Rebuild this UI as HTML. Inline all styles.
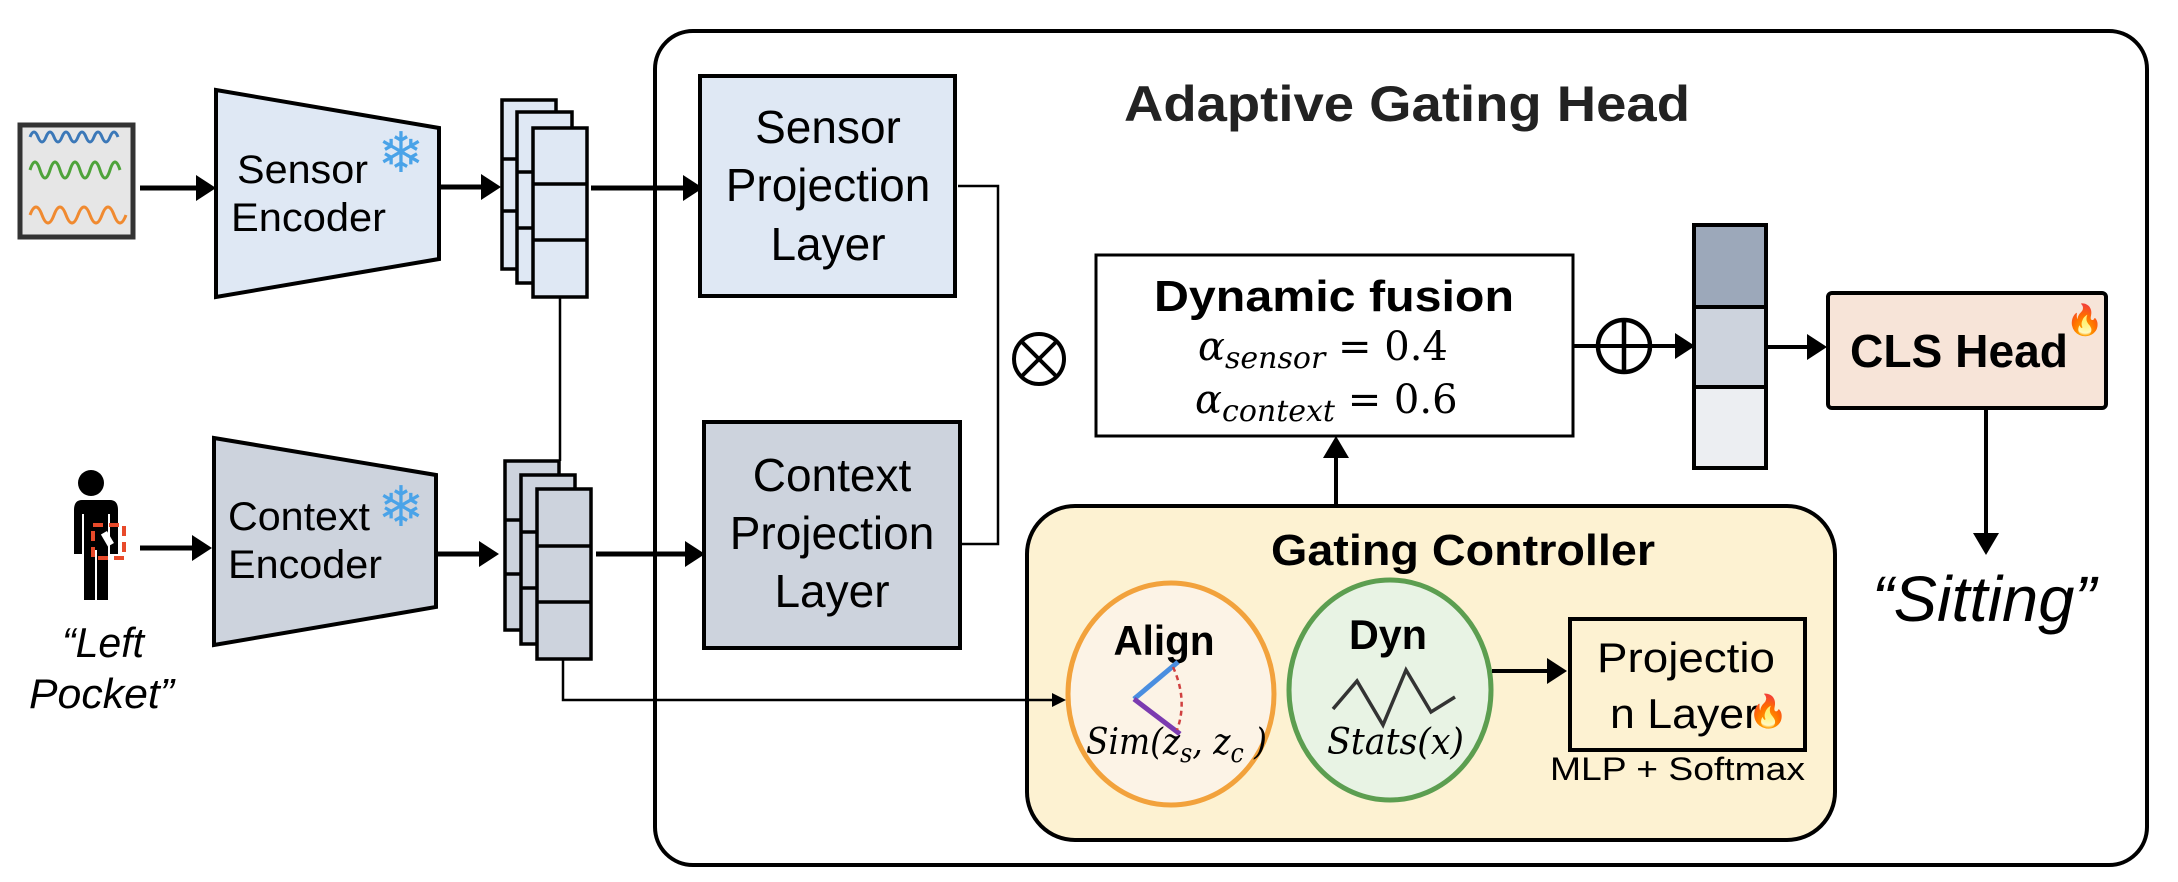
<!DOCTYPE html>
<html><head><meta charset="utf-8"><style>
html,body{margin:0;padding:0;background:#fff;width:2178px;height:882px;overflow:hidden}
svg{display:block}
.s{font-family:"Liberation Sans",Arial,sans-serif}
.m{font-family:"DejaVu Serif","Liberation Serif",serif;font-style:italic}
</style></head><body>
<svg width="2178" height="882" viewBox="0 0 2178 882" xmlns="http://www.w3.org/2000/svg">
<!-- big box -->
<rect x="655" y="31" width="1492" height="834" rx="38" fill="#fff" stroke="#000" stroke-width="4"/>
<text x="1407" y="121" text-anchor="middle" class="s" font-weight="bold" font-size="50" fill="#222" textLength="566" lengthAdjust="spacingAndGlyphs">Adaptive Gating Head</text>

<!-- sensor icon -->
<rect x="20" y="125" width="113" height="112" fill="#e6e6e6" stroke="#333" stroke-width="5"/>
<path d="M30 137 q4 -10 8 0 t8 0 t8 0 t8 0 t8 0 t8 0 t8 0 t8 0 t8 0 t8 0 t8 0" fill="none" stroke="#3b78b8" stroke-width="3"/>
<path d="M30 170 q5 -16 10 0 t10 0 t10 0 t10 0 t10 0 t10 0 t10 0 t10 0 t10 0" fill="none" stroke="#4ea33a" stroke-width="3"/>
<path d="M30 215 q6 -16 12 0 t12 0 t12 0 t12 0 t12 0 t12 0 t12 0 t12 0" fill="none" stroke="#f08a30" stroke-width="3"/>

<!-- person -->
<circle cx="91" cy="483" r="13" fill="#000"/>
<path d="M72 500 h38 q8 0 8 10 v44 h-8 v-40 h-2 v86 h-11 v-50 h-2 v50 h-11 v-86 h-2 v40 h-8 v-44 q0 -10 8 -10z" fill="#000"/>
<rect x="93" y="525" width="31" height="33" fill="none" stroke="#e84a2a" stroke-width="4" stroke-dasharray="10 6"/>
<rect x="104" y="532" width="7" height="14" fill="#fff" transform="rotate(-30 107 539)"/>

<!-- arrows left -->
<g stroke="#000" stroke-width="5" fill="none">
<line x1="140" y1="188" x2="200" y2="188"/>
<line x1="140" y1="548" x2="196" y2="548"/>
<line x1="441" y1="187" x2="484" y2="187"/>
<line x1="436" y1="554" x2="482" y2="554"/>
<line x1="591" y1="188" x2="688" y2="188"/>
<line x1="596" y1="554" x2="690" y2="554"/>
</g>
<g fill="#000">
<polygon points="216,188 196,175 196,201"/>
<polygon points="212,548 192,535 192,561"/>
<polygon points="501,187 481,174 481,200"/>
<polygon points="499,554 479,541 479,567"/>
<polygon points="703,188 683,175 683,201"/>
<polygon points="705,554 685,541 685,567"/>
</g>

<!-- encoders -->
<polygon points="216,90 439,128 439,259 216,297" fill="#dfe8f4" stroke="#000" stroke-width="4"/>
<text x="237" y="183" class="s" font-size="40" textLength="131" lengthAdjust="spacingAndGlyphs">Sensor</text>
<text x="231" y="231" class="s" font-size="40" textLength="155" lengthAdjust="spacingAndGlyphs">Encoder</text>
<text x="401" y="172" text-anchor="middle" font-size="56" fill="#4aa3e8" class="s">❄</text>
<polygon points="214,438 436,475 436,607 214,645" fill="#cdd3dd" stroke="#000" stroke-width="4"/>
<text x="228" y="530" class="s" font-size="40" textLength="142" lengthAdjust="spacingAndGlyphs">Context</text>
<text x="228" y="578" class="s" font-size="40" textLength="154" lengthAdjust="spacingAndGlyphs">Encoder</text>
<text x="401" y="526" text-anchor="middle" font-size="56" fill="#4aa3e8" class="s">❄</text>

<!-- stacks -->
<g stroke="#000" stroke-width="3.5">
<rect x="502" y="100" width="54" height="169" fill="#dfe8f4"/>
<line x1="502" y1="159" x2="517" y2="159"/><line x1="502" y1="211" x2="517" y2="211"/>
<rect x="517" y="112" width="55" height="171" fill="#dfe8f4"/>
<line x1="517" y1="172" x2="533" y2="172"/><line x1="517" y1="228" x2="533" y2="228"/>
<rect x="533" y="128" width="54" height="169" fill="#dfe8f4"/>
<line x1="533" y1="184" x2="587" y2="184"/><line x1="533" y1="240" x2="587" y2="240"/>
<rect x="505" y="461" width="54" height="169" fill="#cdd3dd"/>
<line x1="505" y1="520" x2="521" y2="520"/><line x1="505" y1="574" x2="521" y2="574"/>
<rect x="521" y="475" width="54" height="169" fill="#cdd3dd"/>
<line x1="521" y1="532" x2="537" y2="532"/><line x1="521" y1="588" x2="537" y2="588"/>
<rect x="537" y="489" width="54" height="170" fill="#cdd3dd"/>
<line x1="537" y1="546" x2="591" y2="546"/><line x1="537" y1="602" x2="591" y2="602"/>
</g>
<g stroke="#000" stroke-width="2.5" fill="none">
<line x1="560" y1="298" x2="560" y2="461"/>
<polyline points="958,186 998,186 998,544 960,544"/>
</g>

<!-- projection layers -->
<rect x="700" y="76" width="255" height="220" fill="#dfe8f4" stroke="#000" stroke-width="4"/>
<g class="s" font-size="46" text-anchor="middle">
<text x="828" y="143">Sensor</text><text x="828" y="201">Projection</text><text x="828" y="260">Layer</text>
</g>
<rect x="704" y="422" width="256" height="226" fill="#cdd3dd" stroke="#000" stroke-width="4"/>
<g class="s" font-size="46" text-anchor="middle">
<text x="832" y="491">Context</text><text x="832" y="549">Projection</text><text x="832" y="607">Layer</text>
</g>

<!-- otimes -->
<circle cx="1039" cy="359" r="25" fill="none" stroke="#000" stroke-width="4"/>
<line x1="1021" y1="341" x2="1057" y2="377" stroke="#000" stroke-width="4"/>
<line x1="1057" y1="341" x2="1021" y2="377" stroke="#000" stroke-width="4"/>

<!-- fusion -->
<rect x="1096" y="255" width="477" height="181" fill="#fff" stroke="#000" stroke-width="3"/>
<text x="1334" y="311" text-anchor="middle" class="s" font-weight="bold" font-size="44" textLength="360" lengthAdjust="spacingAndGlyphs">Dynamic fusion</text>
<text x="1198" y="360" class="m" font-size="40">α<tspan font-size="30" dy="8">sensor</tspan><tspan dy="-8" font-style="normal"> = 0.4</tspan></text>
<text x="1195" y="413" class="m" font-size="40">α<tspan font-size="30" dy="8">context</tspan><tspan dy="-8" font-style="normal"> = 0.6</tspan></text>

<!-- oplus and vector -->
<line x1="1573" y1="346" x2="1680" y2="346" stroke="#000" stroke-width="4"/>
<polygon points="1695,346 1675,333 1675,359" fill="#000"/>
<circle cx="1624" cy="346" r="26" fill="none" stroke="#000" stroke-width="4.5"/>
<line x1="1624" y1="320" x2="1624" y2="372" stroke="#000" stroke-width="4.5"/>
<g stroke="#000" stroke-width="4">
<rect x="1694" y="225" width="72" height="82" fill="#9ca8ba"/>
<rect x="1694" y="307" width="72" height="80" fill="#cdd3dd"/>
<rect x="1694" y="387" width="72" height="81" fill="#eceef2"/>
</g>
<line x1="1766" y1="347" x2="1812" y2="347" stroke="#000" stroke-width="4"/>
<polygon points="1827,347 1807,334 1807,360" fill="#000"/>

<!-- CLS -->
<rect x="1828" y="293" width="278" height="115" rx="4" fill="#f7e4d8" stroke="#000" stroke-width="4"/>
<text x="1959" y="367" text-anchor="middle" class="s" font-weight="bold" font-size="46" textLength="218" lengthAdjust="spacingAndGlyphs">CLS Head</text>
<text x="2085" y="330" text-anchor="middle" font-size="30">🔥</text>
<line x1="1986" y1="408" x2="1986" y2="540" stroke="#000" stroke-width="4"/>
<polygon points="1986,555 1973,533 1999,533" fill="#000"/>
<text x="1984" y="621" text-anchor="middle" class="s" font-style="italic" font-size="64" textLength="224" lengthAdjust="spacingAndGlyphs">“Sitting”</text>

<!-- gating -->
<line x1="1336" y1="506" x2="1336" y2="452" stroke="#000" stroke-width="4"/>
<polygon points="1336,436 1323,458 1349,458" fill="#000"/>
<rect x="1027" y="506" width="808" height="334" rx="48" fill="#fdf2d2" stroke="#000" stroke-width="4"/>
<text x="1463" y="565" text-anchor="middle" class="s" font-weight="bold" font-size="44" textLength="384" lengthAdjust="spacingAndGlyphs">Gating Controller</text>

<polyline points="563,659 563,700 1054,700" fill="none" stroke="#000" stroke-width="2.5"/>
<polygon points="1066,700 1052,693 1052,707" fill="#000"/>

<ellipse cx="1171" cy="694" rx="103" ry="111" fill="#fcf3e6" stroke="#f2a23c" stroke-width="5"/>
<text x="1164" y="655" text-anchor="middle" class="s" font-weight="bold" font-size="42" textLength="101" lengthAdjust="spacingAndGlyphs">Align</text>
<line x1="1134" y1="699" x2="1178" y2="662" stroke="#4a8ee0" stroke-width="5"/>
<line x1="1134" y1="699" x2="1180" y2="734" stroke="#7b3bb0" stroke-width="5"/>
<path d="M1173 667 Q1188 700 1177 730" fill="none" stroke="#d04040" stroke-width="2.5" stroke-dasharray="5 4"/>
<text x="1086" y="754" class="m" font-size="36" textLength="181" lengthAdjust="spacingAndGlyphs">Sim(z<tspan font-size="26" dy="8">s</tspan><tspan dy="-8">, z</tspan><tspan font-size="26" dy="8">c</tspan><tspan dy="-8"> )</tspan></text>

<ellipse cx="1390" cy="690" rx="101" ry="110" fill="#e8f3e4" stroke="#5c9e50" stroke-width="5"/>
<text x="1388" y="649" text-anchor="middle" class="s" font-weight="bold" font-size="42" textLength="78" lengthAdjust="spacingAndGlyphs">Dyn</text>
<polyline points="1333,709 1357,681 1383,725 1406,670 1431,712 1455,697" fill="none" stroke="#333" stroke-width="3.5"/>
<text x="1327" y="754" class="m" font-size="36" textLength="137" lengthAdjust="spacingAndGlyphs">Stats(x)</text>

<line x1="1492" y1="671" x2="1552" y2="671" stroke="#000" stroke-width="4"/>
<polygon points="1567,671 1547,658 1547,684" fill="#000"/>
<rect x="1570" y="619" width="235" height="131" fill="#fdf2d2" stroke="#000" stroke-width="4"/>
<text x="1597" y="672" class="s" font-size="42" textLength="178" lengthAdjust="spacingAndGlyphs">Projectio</text>
<text x="1610" y="728" class="s" font-size="42" textLength="149" lengthAdjust="spacingAndGlyphs">n Layer</text>
<text x="1768" y="722" text-anchor="middle" font-size="32">🔥</text>
<text x="1550" y="780" class="s" font-size="32" textLength="255" lengthAdjust="spacingAndGlyphs">MLP + Softmax</text>

<!-- left pocket -->
<text x="62" y="657" class="s" font-style="italic" font-size="42" textLength="82" lengthAdjust="spacingAndGlyphs">“Left</text>
<text x="29" y="708" class="s" font-style="italic" font-size="42" textLength="145" lengthAdjust="spacingAndGlyphs">Pocket”</text>
</svg>
</body></html>
